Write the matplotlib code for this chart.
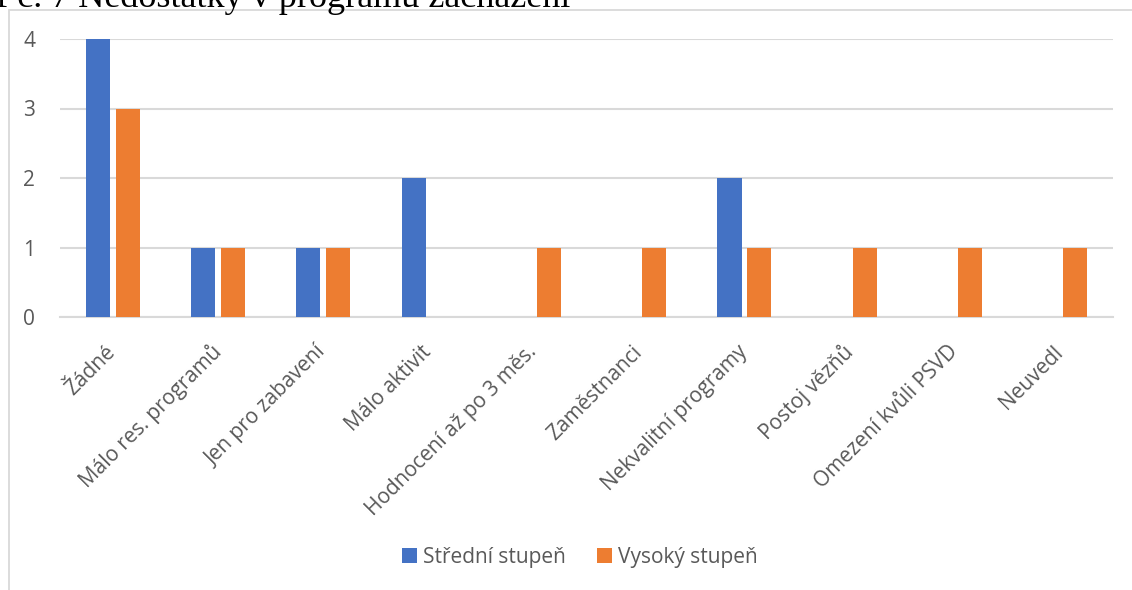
import numpy as np
import matplotlib
matplotlib.use('Agg')
import matplotlib.pyplot as plt
from matplotlib.patches import Rectangle

categories = ['Žádné', 'Málo res. programů', 'Jen pro zabavení', 'Málo aktivit',
              'Hodnocení až po 3 měs.', 'Zaměstnanci', 'Nekvalitní programy',
              'Postoj vězňů', 'Omezení kvůli PSVD', 'Neuvedl']
stredni = [4, 1, 1, 2, 0, 0, 2, 0, 0, 0]
vysoky = [3, 1, 1, 0, 1, 1, 1, 1, 1, 1]
series_names = ['Střední stupeň', 'Vysoký stupeň']
caption_prefix = 'Graf č. 7 '
caption_rest = 'Nedostatky v programu zacházení'

blue = '#4472C4'
orange = '#ED7D31'
grid_c = '#d9d9d9'
text_c = '#595959'

plt.rcParams['font.family'] = ['Open Sans', 'DejaVu Sans']

fig = plt.figure(figsize=(11.32, 5.9), dpi=100)
W, H = 1132, 590

# chart frame (partly off the picture)
fig.patches.append(Rectangle((8.5 / W, -0.1), (W + 10) / W, 1 - 9.5 / H + 0.1,
                             transform=fig.transFigure, fill=False,
                             edgecolor=grid_c, linewidth=1.3))

# cut-off document caption above the chart; measure the prefix so the rest starts near x=78
r = fig.canvas.get_renderer()
tmp = fig.text(0, 0, caption_prefix.strip(), family='Liberation Serif', fontsize=26)
pre_w = tmp.get_window_extent(r).width
tmp.remove()
fig.text((78 - pre_w - 9) / W, 1 - 7 / H, caption_prefix + caption_rest,
         family='Liberation Serif', fontsize=26, color='black',
         ha='left', va='baseline')

ax = fig.add_axes([60 / W, 1 - 317 / H, (1113 - 60) / W, (317 - 39) / H])
x = np.arange(len(categories))
bw = 0.228
off = 0.142
b1 = ax.bar(x - off, stredni, bw, color=blue, label=series_names[0], zorder=3)
b2 = ax.bar(x + off, vysoky, bw, color=orange, label=series_names[1], zorder=3)

ax.set_xlim(-0.5, len(categories) - 0.5)
ax.set_ylim(0, 4)
ax.set_yticks([0, 1, 2, 3, 4])
ax.yaxis.grid(True, color=grid_c, linewidth=1.5, zorder=0)
for s in ['top', 'right', 'left']:
    ax.spines[s].set_visible(False)
ax.spines['bottom'].set_color(grid_c)
ax.spines['bottom'].set_linewidth(1.5)
ax.tick_params(axis='both', length=0, colors=text_c, labelsize=15)
ax.tick_params(axis='y', pad=18)
ax.set_xticks(x)
ax.set_xticklabels(categories, rotation=45, ha='right', va='center',
                   rotation_mode='anchor', color=text_c, fontsize=15)
ax.tick_params(axis='x', pad=23)

fig.legend(handles=[b1, b2], labels=series_names, loc='center',
           bbox_to_anchor=(580 / W, 1 - 557 / H), ncol=2, frameon=False,
           fontsize=15, labelcolor=text_c, handlelength=0.7, handleheight=0.7,
           handletextpad=0.3, columnspacing=1.5)

fig.savefig('out.png', dpi=100)
